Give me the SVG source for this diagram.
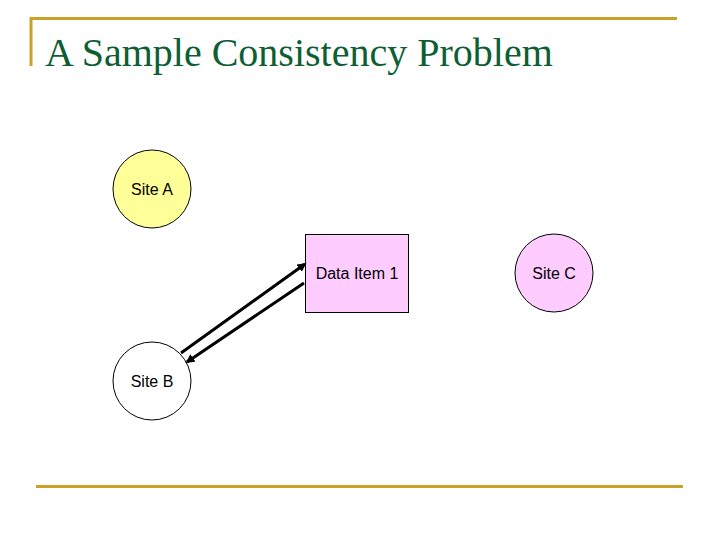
<svg xmlns="http://www.w3.org/2000/svg" width="720" height="540" viewBox="0 0 720 540">
<style>
.lbl{font-family:"Liberation Sans",Arial,sans-serif;font-size:16px;fill:#000;text-anchor:middle}
.rule{stroke:#c9a227;stroke-width:3;fill:none}
.c{stroke:#000;stroke-width:1}
.conn{stroke:#000;stroke-width:3;fill:none}
</style>
<defs>
<marker id="ah" viewBox="0 0 10 10" refX="8" refY="5" markerWidth="3" markerHeight="3" orient="auto"><path d="M0,0L10,5L0,10z" fill="#000"/></marker>
</defs>
<rect width="720" height="540" fill="#fff"/>
<path class="rule" d="M31,66V18.5H677"/>
<path class="rule" d="M36,486.5H683"/>
<text x="45" y="66" font-family="Liberation Serif,serif" font-size="40" fill="#0e5e34">A Sample Consistency Problem</text>
<g id="siteA"><circle class="c" cx="152" cy="189" r="39" fill="#ffff99"/><text class="lbl" x="152" y="195">Site A</text></g>
<g id="dataItem"><rect class="c" x="305.5" y="234.5" width="103" height="78" fill="#ffccff"/><text class="lbl" x="357" y="279">Data Item 1</text></g>
<g id="siteC"><circle class="c" cx="554" cy="273" r="39" fill="#ffccff"/><text class="lbl" x="554" y="279">Site C</text></g>
<g id="siteB"><circle class="c" cx="152" cy="381" r="39" fill="#fff"/><text class="lbl" x="152" y="387">Site B</text></g>
<g id="connectors">
<line class="conn" x1="181" y1="353" x2="305" y2="264" marker-end="url(#ah)"/>
<line class="conn" x1="304" y1="283" x2="187" y2="362" marker-end="url(#ah)"/>
</g>
</svg>
